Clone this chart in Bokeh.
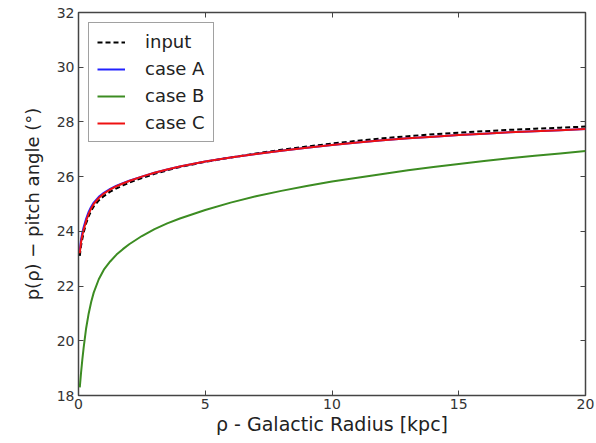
from bokeh.plotting import figure
from bokeh.models import LinearAxis, Range1d, FixedTicker, Legend, LegendItem
from bokeh.embed import file_html
from bokeh.resources import INLINE

# Galactic radius samples (kpc)
rho = [0.05, 0.1, 0.15, 0.2, 0.3, 0.4, 0.5, 0.6, 0.8, 1.0, 1.25, 1.5, 1.75,
       2.0, 2.5, 3.0, 3.5, 4.0, 5.0, 6.0, 7.0, 8.0, 9.0, 10.0, 11.0, 12.0,
       13.0, 14.0, 15.0, 16.0, 17.0, 18.0, 19.0, 20.0]

# pitch angle (degrees)
p_input = [23.1, 23.47, 23.72, 23.94, 24.29, 24.55, 24.75, 24.91, 25.13, 25.29,
           25.45, 25.57, 25.68, 25.78, 25.95, 26.1, 26.23, 26.35, 26.54, 26.7,
           26.85, 26.98, 27.1, 27.21, 27.31, 27.4, 27.48, 27.55, 27.61, 27.66,
           27.71, 27.75, 27.79, 27.83]
p_case_a = [23.3, 23.7, 23.95, 24.14, 24.46, 24.71, 24.9, 25.05, 25.26, 25.41,
            25.55, 25.67, 25.76, 25.85, 26.0, 26.14, 26.26, 26.37, 26.55, 26.7,
            26.83, 26.95, 27.06, 27.16, 27.25, 27.33, 27.4, 27.46, 27.52, 27.57,
            27.62, 27.66, 27.7, 27.74]
p_case_b = [18.3, 18.83, 19.3, 19.72, 20.45, 20.99, 21.42, 21.76, 22.25, 22.6,
            22.9, 23.15, 23.35, 23.53, 23.83, 24.08, 24.29, 24.47, 24.78, 25.05,
            25.28, 25.48, 25.66, 25.82, 25.96, 26.1, 26.23, 26.35, 26.46, 26.57,
            26.67, 26.76, 26.85, 26.94]
p_case_c = [23.2, 23.6, 23.85, 24.05, 24.38, 24.64, 24.84, 25.0, 25.22, 25.38,
            25.53, 25.65, 25.75, 25.84, 26.0, 26.14, 26.26, 26.37, 26.55, 26.7,
            26.83, 26.95, 27.06, 27.16, 27.25, 27.33, 27.4, 27.46, 27.52, 27.57,
            27.62, 27.66, 27.7, 27.74]

x_ticks = [0, 5, 10, 15, 20]
y_ticks = [18, 20, 22, 24, 26, 28, 30, 32]

FONT = "DejaVu Sans"
TICK_COLOR = "#333333"
FRAME_COLOR = "#444444"

p = figure(width=596, height=443, output_backend="svg", toolbar_location=None,
           x_range=Range1d(0, 20), y_range=Range1d(18, 32),
           min_border_left=78, min_border_right=11, min_border_top=12,
           min_border_bottom=48)
p.background_fill_color = "white"
p.border_fill_color = "white"
p.outline_line_color = FRAME_COLOR
p.outline_line_width = 1.5
p.xgrid.visible = False
p.ygrid.visible = False

for ax in (p.xaxis[0], p.yaxis[0]):
    ax.major_tick_in = 5
    ax.major_tick_out = 0
    ax.minor_tick_in = 0
    ax.minor_tick_out = 0
    ax.axis_line_color = None
    ax.major_tick_line_color = FRAME_COLOR
    ax.major_label_text_font = FONT
    ax.major_label_text_font_size = "14px"
    ax.major_label_text_color = TICK_COLOR
    ax.axis_label_text_font = FONT
    ax.axis_label_text_font_style = "normal"
    ax.axis_label_text_color = "#222222"

p.xaxis[0].ticker = FixedTicker(ticks=x_ticks)
p.yaxis[0].ticker = FixedTicker(ticks=y_ticks)
p.xaxis[0].major_label_standoff = 3
p.yaxis[0].major_label_standoff = 4
p.xaxis[0].axis_label = "ρ - Galactic Radius [kpc]"
p.yaxis[0].axis_label = "p(ρ) − pitch angle (°)"
p.xaxis[0].axis_label_text_font_size = "19px"
p.yaxis[0].axis_label_text_font_size = "18px"
p.xaxis[0].axis_label_standoff = 1
p.yaxis[0].axis_label_standoff = 11

# mirrored ticks on top and right (no labels)
top = LinearAxis(ticker=FixedTicker(ticks=x_ticks), major_tick_in=5, major_tick_out=0,
                 minor_tick_in=0, minor_tick_out=0, axis_line_color=None,
                 major_tick_line_color=FRAME_COLOR, major_label_text_color=None)
right = LinearAxis(ticker=FixedTicker(ticks=y_ticks), major_tick_in=5, major_tick_out=0,
                   minor_tick_in=0, minor_tick_out=0, axis_line_color=None,
                   major_tick_line_color=FRAME_COLOR, major_label_text_color=None)
p.add_layout(top, "above")
p.add_layout(right, "right")

r_in = p.line(rho, p_input, line_color="black", line_width=2, line_dash="5 3")
r_a = p.line(rho, p_case_a, line_color="#2222ff", line_width=2)
r_b = p.line(rho, p_case_b, line_color="#3c8c22", line_width=2)
r_c = p.line(rho, p_case_c, line_color="#ee1111", line_width=2)

legend = Legend(items=[
    LegendItem(label="input", renderers=[r_in]),
    LegendItem(label="case A", renderers=[r_a]),
    LegendItem(label="case B", renderers=[r_b]),
    LegendItem(label="case C", renderers=[r_c]),
], location="top_left")
legend.label_text_font = FONT
legend.label_text_font_size = "18px"
legend.label_text_color = "#222222"
legend.glyph_width = 28
legend.label_standoff = 20
legend.label_height = 20
legend.glyph_height = 20
legend.spacing = 6
legend.padding = 8
legend.margin = 10
legend.border_line_color = FRAME_COLOR
legend.border_line_width = 1.5
legend.background_fill_alpha = 1.0
p.add_layout(legend)

open("out.html", "w").write(file_html(p, INLINE))
